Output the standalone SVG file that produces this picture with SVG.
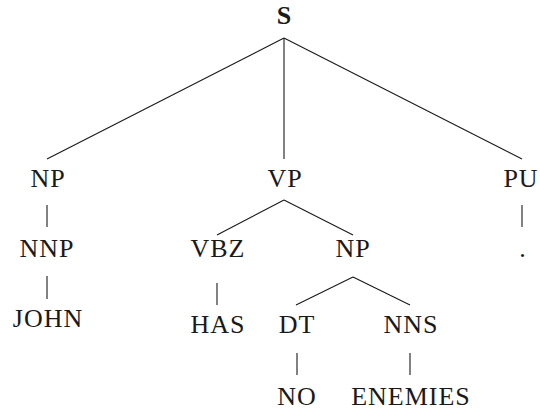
<svg xmlns="http://www.w3.org/2000/svg" width="540" height="410" viewBox="0 0 540 410">
<style>
text{font-family:"Liberation Serif","Times New Roman",serif;font-size:26px;letter-spacing:1px;fill:#1a1a1a;text-anchor:middle}
.b{font-weight:bold;letter-spacing:0}
line{stroke:#1a1a1a;stroke-width:1.1}
</style>
<rect width="540" height="410" fill="#fff"/>
<g id="edges">
<line x1="284" y1="38" x2="47" y2="159"/>
<line x1="284" y1="38" x2="284" y2="159"/>
<line x1="284" y1="38" x2="522" y2="159"/>
<line x1="47" y1="205" x2="47" y2="227"/>
<line x1="522" y1="205" x2="522" y2="227"/>
<line x1="284" y1="200" x2="217" y2="235"/>
<line x1="284" y1="200" x2="353" y2="235"/>
<line x1="47" y1="276" x2="47" y2="299"/>
<line x1="217" y1="283" x2="217" y2="305"/>
<line x1="353" y1="277" x2="296" y2="305"/>
<line x1="353" y1="277" x2="410" y2="305"/>
<line x1="297" y1="353" x2="297" y2="375"/>
<line x1="410" y1="353" x2="410" y2="375"/>
</g>
<g id="S"><text class="b" x="284" y="24">S</text></g>
<g id="NP1"><text x="48" y="187">NP</text></g>
<g id="VP"><text x="285" y="187">VP</text></g>
<g id="PU"><text x="521" y="187">PU</text></g>
<g id="NNP"><text x="47" y="257">NNP</text></g>
<g id="VBZ"><text x="218" y="257">VBZ</text></g>
<g id="NP2"><text x="353" y="257">NP</text></g>
<g id="dot"><text x="523" y="257">.</text></g>
<g id="JOHN"><text x="48" y="327">JOHN</text></g>
<g id="HAS"><text x="218" y="333">HAS</text></g>
<g id="DT"><text x="297" y="333">DT</text></g>
<g id="NNS"><text x="411" y="333">NNS</text></g>
<g id="NO"><text x="297" y="405">NO</text></g>
<g id="ENEMIES"><text x="411" y="405">ENEMIES</text></g>
</svg>
